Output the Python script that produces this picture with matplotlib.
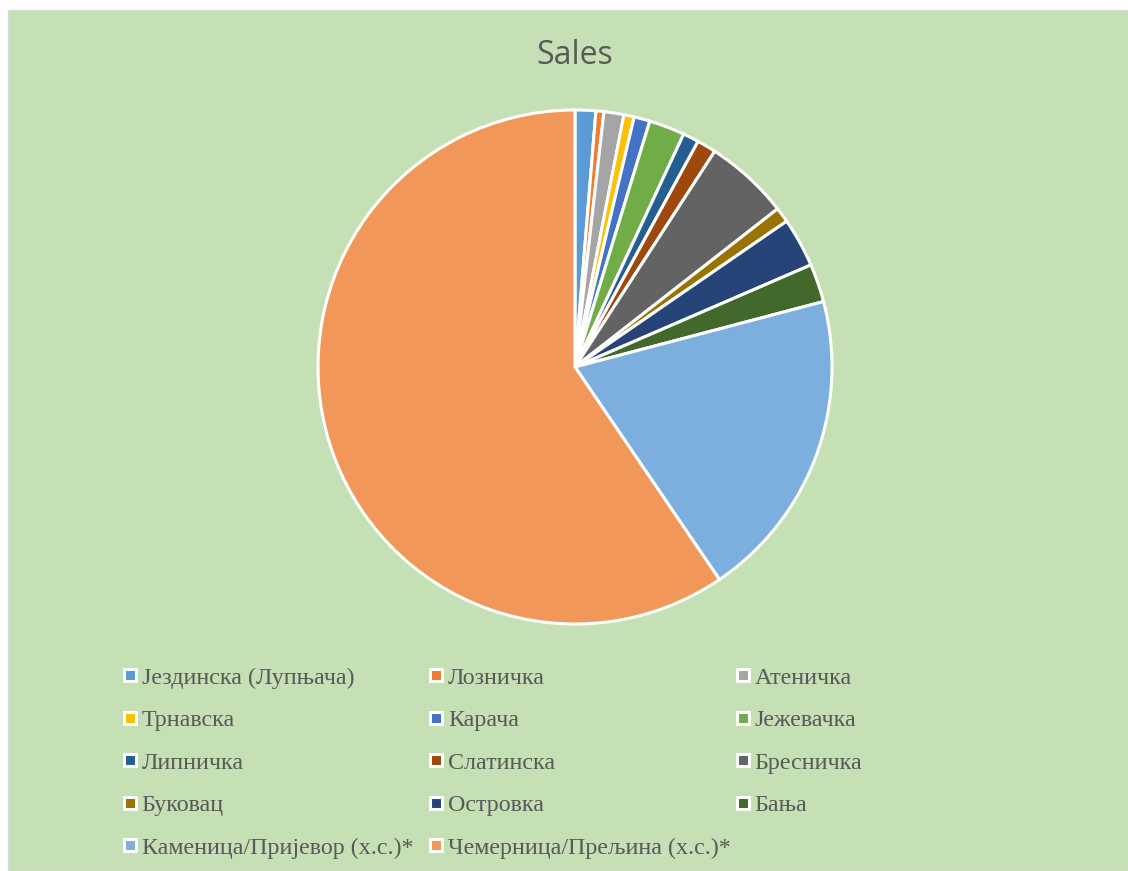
import matplotlib
matplotlib.use("Agg")
import matplotlib.pyplot as plt
from matplotlib.patches import Rectangle

labels = ["Јездинска (Лупњача)", "Лозничка", "Атеничка", "Трнавска", "Карача",
          "Јежевачка", "Липничка", "Слатинска", "Бресничка", "Буковац",
          "Островка", "Бања", "Каменица/Пријевор (х.с.)*", "Чемерница/Прељина (х.с.)*"]
values = [1.3, 0.5, 1.25, 0.65, 1.0, 2.25, 1.0, 1.2, 5.3, 0.95, 3.1, 2.4, 19.6, 59.5]
colors = ["#5B9BD5", "#ED7D31", "#A5A5A5", "#FFC000", "#4472C4", "#70AD47",
          "#255E91", "#9E480E", "#636363", "#997300", "#264478", "#43682B",
          "#7CAFDD", "#F1975A"]

W, H = 1128, 871
fig = plt.figure(figsize=(W / 100, H / 100), dpi=100)
fig.patch.set_facecolor("white")


def fx(px):
    return px / W


def fy(py):
    return 1 - py / H


# chart area background
bg = Rectangle((fx(8), 0), 1 - fx(8), fy(10), transform=fig.transFigure,
               facecolor="#C5E0B4", edgecolor="#D9D9D9", linewidth=1.0, zorder=-10)
fig.patches.append(bg)

cx, cy, r = 575, 367, 257
ax = fig.add_axes([fx(cx - r), fy(cy + r), 2 * r / W, 2 * r / H], zorder=5)
ax.set_facecolor("none")
ax.pie(values, colors=colors, startangle=90, counterclock=False,
       wedgeprops=dict(edgecolor="white", linewidth=2.2), radius=1.0)
ax.set_xlim(-1, 1)
ax.set_ylim(-1, 1)
ax.set_aspect("equal")
ax.axis("off")

fig.text(fx(cx), fy(55), "Sales", ha="center", va="center",
         fontsize=23, color="#595959", family="Open Sans")

# legend: uniform grid, row-major like the reference
ncol = 3
col_x0, col_w = 122, 306.5
row_y0, row_h = 676, 42.5
box = 12
for i, (lab, col) in enumerate(zip(labels, colors)):
    rr, c = divmod(i, ncol)
    x0 = col_x0 + c * col_w
    yc = row_y0 + rr * row_h
    fig.patches.append(Rectangle((fx(x0 + 1.5), fy(yc - 1 + box / 2)), box / W, box / H,
                                 transform=fig.transFigure, facecolor=col,
                                 edgecolor="white", linewidth=2.2, zorder=6))
    fig.text(fx(x0 + 19.5), fy(yc + 7.7), lab, ha="left", va="baseline",
             fontsize=17.3, family="Liberation Serif", color="#595959", zorder=6)

fig.savefig("out.png", dpi=100, facecolor=fig.get_facecolor())
